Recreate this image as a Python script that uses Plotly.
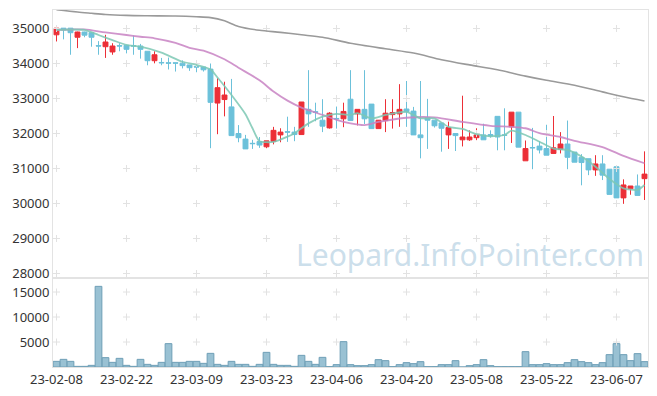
import plotly.graph_objects as go

# ---------------- data ----------------
tick_idx = [0, 10, 20, 30, 40, 50, 60, 70, 80]
tick_labels = ["23-02-08", "23-02-22", "23-03-09", "23-03-23", "23-04-06",
               "23-04-20", "23-05-08", "23-05-22", "23-06-07"]

price_ticks = [28000, 29000, 30000, 31000, 32000, 33000, 34000, 35000]
volume_ticks = [5000, 10000, 15000]

open_ = [34820, 35010, 35010, 34750, 34900, 34880, 34510, 34480, 34330, 34510,
         34520, 34510, 34500, 34350, 34080, 34030, 34020, 34020, 34010, 33960,
         33910, 33900, 33840, 32870, 32970, 32760, 32000, 31840, 31720, 31770,
         31620, 31770, 31960, 32050, 32040, 31970, 32690, 32620, 32380, 32160,
         32430, 32420, 32980, 32560, 32690, 32840, 32140, 32370, 32540, 32560,
         32700, 32640, 31960, 32450, 32380, 32300, 31960, 32000, 31820, 31820,
         31880, 31960, 31970, 32490, 31960, 32190, 32610, 31220, 31600, 31640,
         31570, 31430, 31550, 31700, 31470, 31320, 31280, 30960, 31130, 30980,
         31050, 30160, 30420, 30500, 30710]
high = [35020, 35010, 35010, 34910, 34910, 34900, 34640, 34820, 34580, 34580,
        34520, 34800, 34560, 34350, 34350, 34160, 34170, 34020, 34090, 33960,
        34090, 33900, 34000, 33580, 33480, 33560, 32240, 31960, 31820, 31900,
        31790, 32190, 32150, 32480, 32190, 32900, 33810, 32880, 32980, 32610,
        32770, 32880, 33810, 32690, 33810, 32840, 32380, 32980, 32980, 33410,
        33500, 32760, 33500, 32990, 32380, 32300, 32340, 32000, 33080, 32090,
        32150, 32280, 32090, 32490, 32720, 32610, 32610, 31800, 32160, 31780,
        32250, 32500, 32040, 32370, 31470, 31410, 31280, 31380, 31380, 30980,
        31050, 30690, 30500, 30830, 31490]
low = [34630, 34690, 34250, 34440, 34750, 34480, 34250, 34160, 34250, 34350,
       34290, 34250, 34140, 33950, 34005, 33950, 33830, 33770, 33860, 33790,
       33750, 33770, 31580, 31980, 32490, 31940, 31750, 31560, 31560, 31590,
       31580, 31690, 31750, 31760, 31780, 31970, 32190, 32350, 32040, 32140,
       32140, 32180, 32370, 32230, 32270, 32140, 32140, 32040, 32140, 32190,
       32190, 31960, 31290, 31560, 32170, 31480, 31560, 31500, 31630, 31790,
       31810, 31820, 31880, 31520, 31520, 31730, 31610, 31220, 30980, 31430,
       31380, 31430, 31430, 30980, 31180, 30520, 30810, 30790, 30670, 30260,
       30160, 29990, 30250, 30230, 30100]
close = [35010, 34960, 34880, 34900, 34810, 34750, 34500, 34615, 34500, 34500,
         34405, 34500, 34405, 34080, 34250, 34020, 34010, 34010, 33940, 33880,
         33900, 33820, 32890, 33310, 33100, 31940, 31880, 31560, 31710, 31670,
         31790, 32090, 32040, 32040, 31970, 32900, 32560, 32610, 32210, 32580,
         32420, 32630, 32370, 32690, 32420, 32140, 32380, 32580, 32600, 32690,
         32620, 31960, 31880, 32380, 32220, 32150, 32170, 31940, 31900, 31900,
         31960, 31820, 31930, 31900, 31950, 32610, 31610, 31570, 31590, 31530,
         31380, 31590, 31700, 31320, 31180, 31170, 30960, 31130, 30810, 30260,
         30160, 30530, 30500, 30230, 30840]
volume = [1130, 1530, 1130, 130, 130, 330, 16130, 1870, 930, 1730,
          330, 130, 1530, 530, 330, 930, 4670, 930, 930, 1130,
          1130, 730, 2730, 530, 330, 1130, 530, 530, 130, 530,
          2930, 530, 330, 330, 130, 2330, 1130, 530, 1930, 70,
          470, 5070, 470, 270, 270, 470, 1470, 1270, 70, 470,
          870, 670, 1070, 70, 70, 470, 470, 1270, 0, 270,
          470, 1470, 270, 70, 70, 70, 70, 3070, 470, 470,
          670, 470, 470, 870, 1470, 1070, 870, 470, 870, 2470,
          4670, 2470, 1270, 2670, 1070]

# moving-average lines (bar index, value)
ma_short_idx = [0, 4, 6, 8, 10, 12, 15, 18, 20, 22, 23, 25, 27, 28, 29, 31, 33, 34,
                36, 38, 40, 42, 43, 45, 47, 50, 52, 54, 56, 58, 60, 62, 64, 65,
                67, 69, 71, 73, 75, 77, 79, 81, 83, 84]
ma_short_val = [34960, 34960, 34814, 34670, 34530, 34480, 34310, 34050, 33960, 33834,
                33600, 33100, 32550, 32150, 31780, 31760, 31910, 32010, 32290, 32480,
                32560, 32530, 32580, 32430, 32530, 32620, 32434, 32430, 32190, 32130,
                31980, 31920, 31957, 32080, 31957, 31766, 31570, 31530, 31340, 31050,
                30700, 30434, 30386, 30529]
ma_mid_idx = [0, 2, 4, 7, 10, 12, 14, 17, 19, 21, 24, 26, 29, 31, 33, 35, 38, 40,
              42, 44, 46, 50, 54, 58, 62, 65, 67, 69, 72, 74, 78, 81, 84]
ma_mid_val = [34960, 34970, 34975, 34890, 34815, 34765, 34720, 34590, 34450, 34366,
              34120, 33880, 33520, 33200, 32940, 32740, 32530, 32390, 32290, 32240,
              32330, 32450, 32460, 32330, 32220, 32190, 32150, 32010, 31900, 31790,
              31610, 31360, 31150]
ma_long_idx = [0, 3, 5, 7, 10, 13, 17, 20, 22, 24, 26, 29, 32, 35, 38, 42, 47, 51,
               55, 59, 63, 67, 70, 74, 78, 81, 84]
ma_long_val = [35540, 35470, 35434, 35400, 35375, 35365, 35357, 35335, 35310, 35220,
               35060, 34950, 34890, 34820, 34750, 34580, 34420, 34300, 34110, 33960,
               33820, 33640, 33520, 33380, 33190, 33050, 32930]

watermark = "Leopard.InfoPointer.com"

# ---------------- styling ----------------
RED = "#ec2f37"
BLUE = "#6cc1da"
GRIDC = "#e2e2e2"
FRAME = "#e3e3e3"
FONT = "Noto Sans"

idx = list(range(len(close)))

fig = go.Figure()

# grid crosses (price panel)
gx, gy = [], []
for t in tick_idx:
    for p in price_ticks:
        gx.append(t)
        gy.append(p)
fig.add_trace(go.Scatter(x=gx, y=gy, mode="markers", xaxis="x", yaxis="y",
                         marker=dict(symbol="cross-thin", size=5,
                                     line=dict(color=GRIDC, width=1)),
                         hoverinfo="skip", showlegend=False))
# grid crosses (volume panel)
vx, vy = [], []
for t in tick_idx:
    for v in volume_ticks:
        vx.append(t)
        vy.append(v)
fig.add_trace(go.Scatter(x=vx, y=vy, mode="markers", xaxis="x2", yaxis="y2",
                         marker=dict(symbol="cross-thin", size=5,
                                     line=dict(color=GRIDC, width=1)),
                         hoverinfo="skip", showlegend=False))

# moving averages
fig.add_trace(go.Scatter(x=ma_long_idx, y=ma_long_val, mode="lines",
                         line=dict(color="#9a9a9a", width=1.6, shape="spline", smoothing=0.8),
                         xaxis="x", yaxis="y", showlegend=False))
fig.add_trace(go.Scatter(x=ma_mid_idx, y=ma_mid_val, mode="lines",
                         line=dict(color="rgba(200,130,195,0.85)", width=1.8, shape="spline", smoothing=0.8),
                         xaxis="x", yaxis="y", showlegend=False))
fig.add_trace(go.Scatter(x=ma_short_idx, y=ma_short_val, mode="lines",
                         line=dict(color="rgba(125,200,180,0.85)", width=1.8, shape="spline", smoothing=0.6),
                         xaxis="x", yaxis="y", showlegend=False))

# candles
fig.add_trace(go.Candlestick(
    x=idx, open=open_, high=high, low=low, close=close,
    xaxis="x", yaxis="y",
    increasing=dict(line=dict(color=RED, width=1), fillcolor=RED),
    decreasing=dict(line=dict(color=BLUE, width=1), fillcolor=BLUE),
    whiskerwidth=0, showlegend=False))

# volume
fig.add_trace(go.Bar(x=idx, y=volume, xaxis="x2", yaxis="y2",
                     marker=dict(color="rgba(135,182,203,0.85)",
                                 line=dict(color="#6e9fb6", width=1)),
                     showlegend=False))

split = (367 - 278) / 357.0

fig.update_layout(
    width=657, height=396,
    margin=dict(l=53, r=9, t=10, b=29),
    paper_bgcolor="white", plot_bgcolor="white",
    font=dict(family=FONT, size=13, color="#333333"),
    bargap=0.04, boxgap=0.3, boxgroupgap=0,
    xaxis=dict(domain=[0, 1], anchor="y", range=[-0.5, 84.5], automargin=False,
               showticklabels=False, showgrid=False, zeroline=False,
               showline=True, mirror=True, linecolor=FRAME, linewidth=1,
               rangeslider=dict(visible=False), ticks=""),
    yaxis=dict(domain=[split, 1], anchor="x", range=[27871, 35529], automargin=False,
               tickvals=price_ticks, ticktext=[str(p) for p in price_ticks],
               showgrid=False, zeroline=False, showline=True, mirror=True,
               linecolor=FRAME, linewidth=1, ticks=""),
    xaxis2=dict(domain=[0, 1], anchor="y2", range=[-0.5, 84.5], matches="x",
                automargin=False,
                tickvals=tick_idx, ticktext=tick_labels, showgrid=False,
                zeroline=False, showline=True, mirror=True, linecolor=FRAME,
                linewidth=1, ticks=""),
    yaxis2=dict(domain=[0, split], anchor="x2", range=[0, 17800], automargin=False,
                tickvals=volume_ticks, ticktext=[str(v) for v in volume_ticks],
                showgrid=False, zeroline=False, showline=True, mirror=True,
                linecolor=FRAME, linewidth=1, ticks=""),
    annotations=[dict(text=watermark, xref="paper", yref="paper",
                      x=0.70, y=0.315, xanchor="center", yanchor="middle",
                      showarrow=False,
                      font=dict(family=FONT, size=30, color="rgba(160,195,218,0.55)"))],
)

fig.write_html("out.html", config={"displayModeBar": False},
               post_script="document.body.style.margin='0';document.body.style.overflow='hidden';")
